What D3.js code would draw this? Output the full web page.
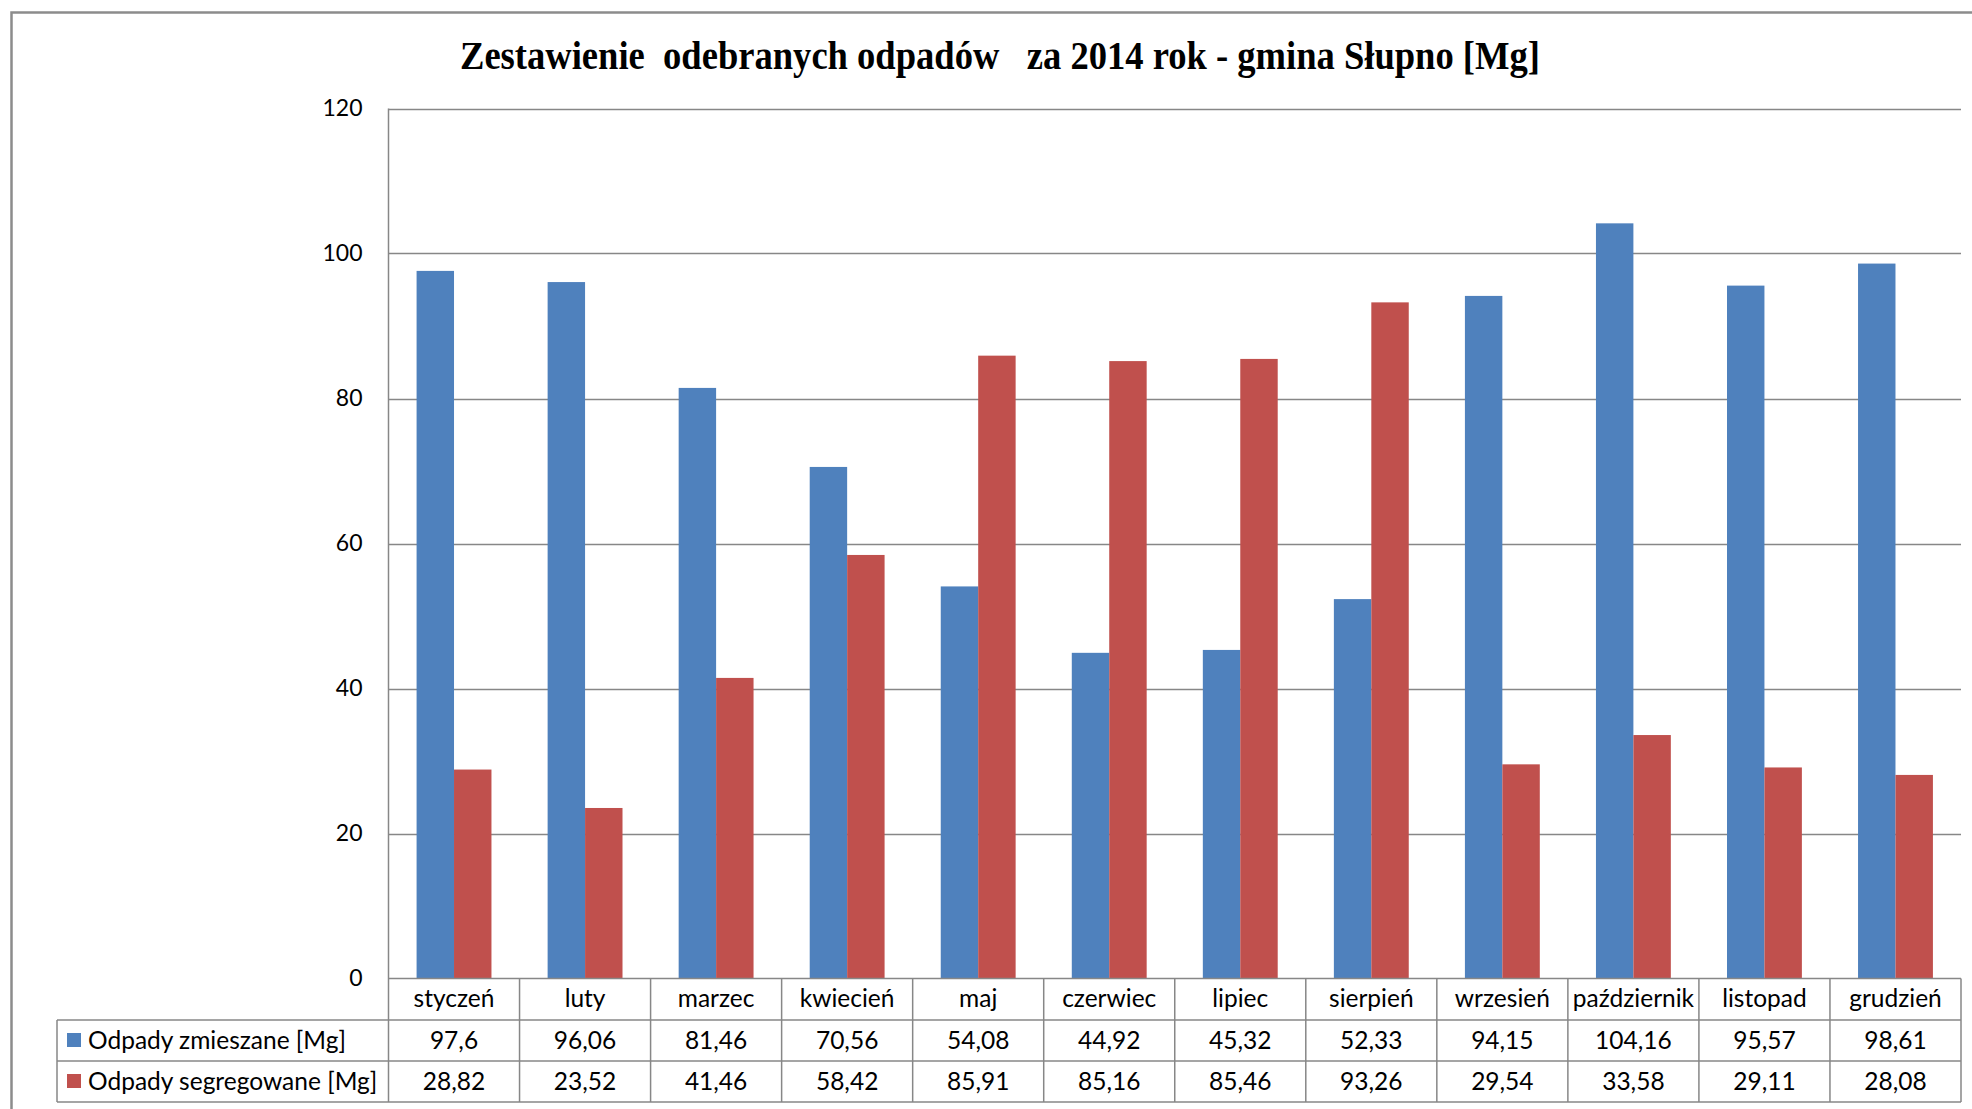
<!DOCTYPE html>
<html><head><meta charset="utf-8">
<script src="https://cdn.jsdelivr.net/npm/d3@7"></script>
<style>html,body{margin:0;padding:0;background:#fff;overflow:hidden}</style>
</head><body>
<svg id="chart" width="1972" height="1109"></svg>
<script>
const categories = ["styczeń","luty","marzec","kwiecień","maj","czerwiec","lipiec","sierpień","wrzesień","październik","listopad","grudzień"];
const seriesNames = ["Odpady zmieszane [Mg]","Odpady segregowane [Mg]"];
const zmieszane = [97.6,96.06,81.46,70.56,54.08,44.92,45.32,52.33,94.15,104.16,95.57,98.61];
const segregowane = [28.82,23.52,41.46,58.42,85.91,85.16,85.46,93.26,29.54,33.58,29.11,28.08];
const yTicks = [0,20,40,60,80,100,120];
const colors = ["#4F81BD","#C0504D"];
const title = "Zestawienie  odebranych odpadów   za 2014 rok - gmina Słupno [Mg]";

const seriesValues = [zmieszane, segregowane];
const svg = d3.select("#chart");
const L = 388.5, R = 1961, T = 108.5, B = 978.5;
const rowH = [978.5, 1020, 1061, 1102];
const tableLeft = 57;
const gridColor = "#878787";
const font = "Lato, 'Open Sans', sans-serif";
const tableFont = 24.5;

// outer border
svg.append("rect").attr("x",11.5).attr("y",12.5).attr("width",2000).attr("height",1200)
  .attr("fill","none").attr("stroke","#8c8c8c").attr("stroke-width",2.5);

// title
svg.append("text").attr("x",460).attr("y",69)
  .attr("textLength",1080).attr("lengthAdjust","spacingAndGlyphs")
  .attr("font-family","'Liberation Serif', 'Times New Roman', serif")
  .attr("font-weight","bold").attr("font-size",40).attr("fill","#000")
  .style("white-space","pre").text(title);

const y = d3.scaleLinear().domain([0,120]).range([B,T]);
const x = d3.scaleBand().domain(categories).range([L,R]).padding(0);
const bw = x.bandwidth();
const x1 = d3.scaleBand().domain(seriesNames).range([bw*0.75/3.5, bw - bw*0.75/3.5]).padding(0);

// gridlines
svg.append("g").selectAll("line").data(yTicks.filter(d=>d>0)).join("line")
  .attr("x1",L).attr("x2",R).attr("y1",d=>Math.round(y(d))+0.5).attr("y2",d=>Math.round(y(d))+0.5)
  .attr("stroke",gridColor).attr("stroke-width",1.5);

// y axis via d3 axis
const yAxis = d3.axisLeft(y).tickValues(yTicks).tickSize(0).tickPadding(26).tickFormat(d3.format("d"));
const ya = svg.append("g").attr("transform",`translate(${L},0)`).call(yAxis);
ya.select(".domain").remove();
ya.selectAll("text").attr("font-family",font).attr("font-size",23).attr("fill","#000");

// bars
const g = svg.append("g");
seriesValues.forEach((vals,si)=>{
  g.append("g").selectAll("rect").data(vals).join("rect")
    .attr("x",(d,i)=>x(categories[i]) + x1(seriesNames[si]))
    .attr("width",x1.bandwidth())
    .attr("y",d=>y(d)).attr("height",d=>B - y(d))
    .attr("fill",colors[si]);
});

// left axis line
svg.append("line").attr("x1",L).attr("x2",L).attr("y1",T).attr("y2",rowH[3])
  .attr("stroke",gridColor).attr("stroke-width",1.5);

// table lines
const tl = svg.append("g").attr("stroke",gridColor).attr("stroke-width",1.5);
tl.append("line").attr("x1",L).attr("x2",R).attr("y1",rowH[0]).attr("y2",rowH[0]);
[1,2,3].forEach(r=>tl.append("line").attr("x1",tableLeft).attr("x2",R).attr("y1",rowH[r]).attr("y2",rowH[r]));
tl.append("line").attr("x1",tableLeft).attr("x2",tableLeft).attr("y1",rowH[1]).attr("y2",rowH[3]);
tl.selectAll(".v").data(categories).join("line")
  .attr("x1",d=>x(d)+bw).attr("x2",d=>x(d)+bw).attr("y1",rowH[0]).attr("y2",rowH[3]);

// category labels
svg.append("g").selectAll("text").data(categories).join("text")
  .attr("x",d=>x(d)+bw/2).attr("y",1007).attr("text-anchor","middle")
  .attr("font-family",font).attr("font-size",tableFont).attr("fill","#000").text(d=>d);

// data rows
const fmt = v => String(v).replace(".",",");
seriesValues.forEach((vals,si)=>{
  const by = [1049,1090][si];
  svg.append("g").selectAll("text").data(vals).join("text")
    .attr("x",(d,i)=>x(categories[i])+bw/2).attr("y",by).attr("text-anchor","middle")
    .attr("font-family",font).attr("font-size",tableFont).attr("fill","#000").text(fmt);
  svg.append("rect").attr("x",67).attr("y",[1033,1074][si]).attr("width",14).attr("height",14).attr("fill",colors[si]);
  svg.append("text").attr("x",88).attr("y",by)
    .attr("font-family",font).attr("font-size",tableFont).attr("fill","#000").text(seriesNames[si]);
});
</script>
</body></html>
